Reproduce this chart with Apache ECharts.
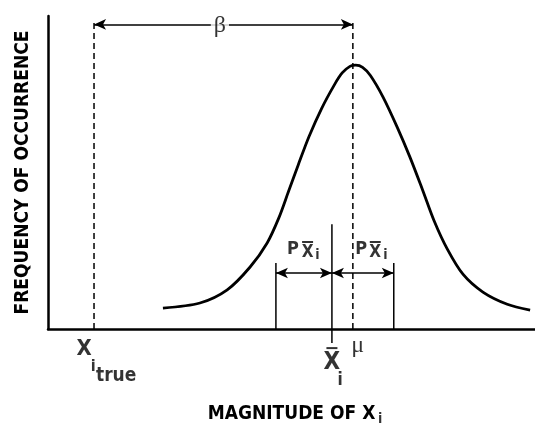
<!DOCTYPE html>
<html>
<head>
<meta charset="utf-8">
<script src="https://cdn.jsdelivr.net/npm/echarts@6/dist/echarts.min.js"></script>
<style>
html,body{margin:0;padding:0;background:#fff;}
#main{width:535px;height:429px;}
</style>
</head>
<body>
<div id="main"></div>
<script>
// frequency curve (x: magnitude 0-100, y: frequency 0-100)
var curveX = [23.6, 31.2, 36.8, 41.5, 45.0, 47.4, 49.4, 51.4, 53.6, 56.2, 58.8, 60.4, 62.0, 63.2, 64.6, 66.2, 68.8, 71.7, 74.3, 76.9, 79.3, 82.0, 85.2, 89.3, 94.3, 99.0];
var curveY = [6.7, 8.3, 12.5, 19.8, 27.5, 35.5, 44.0, 52.5, 61.5, 70.5, 78.0, 81.8, 83.9, 84.3, 83.6, 81.0, 74.1, 64.5, 55.0, 44.5, 34.5, 25.5, 17.5, 11.8, 7.9, 6.0];

// positions on the magnitude axis
var xTrue = 9.45, mu = 62.6, xBar = 58.3;
var pBounds = [46.8, 71.0];

// heights of the guides
var guideTop = 98.6, betaY = 97.3;
var barTop = 33.5, barFoot = -4.5;
var bracketTop = 21.1, bracketY = 17.9;

var narrow = '"Liberation Sans Narrow", "DejaVu Sans Condensed", "Roboto", sans-serif';
var serif = '"Liberation Serif", "DejaVu Serif", serif';

// text pieces [text, x, y, size, family, weight]
var notes = [
  ['β', 35.3, 96.8, 24, serif, 'normal'],
  ['μ', 63.6, -5.2, 24, serif, 'normal'],
  ['X', 7.4, -6.4, 22, narrow, 'bold'],
  ['i', 9.3, -12.1, 16, narrow, 'bold'],
  ['true', 14.0, -15.0, 19, narrow, 'bold'],
  ['X', 58.3, -10.7, 24, narrow, 'bold'],
  ['i', 60.0, -16.6, 17, narrow, 'bold'],
  ['P', 50.3, 25.6, 18, narrow, 'bold'],
  ['X', 53.3, 24.4, 17, narrow, 'bold'],
  ['i', 55.3, 23.4, 14, narrow, 'bold'],
  ['P', 64.3, 25.6, 18, narrow, 'bold'],
  ['X', 67.2, 24.4, 17, narrow, 'bold'],
  ['i', 69.3, 23.4, 14, narrow, 'bold'],
  ['i', 68.2, -29.0, 14, narrow, 'bold']
];
// overbars over the X's
var barsX = [58.3, 53.3, 67.2];
var barsY = [-6.1, 27.8, 27.8];

var curve = curveX.map(function (x, i) { return [x, curveY[i]]; });

function vline(x, y0, y1, dashed) {
  return {
    type: 'line', data: [[x, y0], [x, y1]], symbol: 'none', clip: false, silent: true,
    lineStyle: { color: '#000', width: 1.5, type: dashed ? [6, 4] : 'solid' }, z: 3
  };
}

var chart = echarts.init(document.getElementById('main'));
var option = {
  animation: false,
  backgroundColor: '#fff',
  grid: { left: 48, right: 0, top: 16, bottom: 100, outerBoundsMode: 'none', containLabel: false },
  xAxis: {
    type: 'value', min: 0, max: 100,
    axisLine: { lineStyle: { color: '#000', width: 2.5 } },
    axisTick: { show: false }, axisLabel: { show: false }, splitLine: { show: false },
    name: 'MAGNITUDE OF X', nameLocation: 'middle', nameGap: 76,
    nameTextStyle: { color: '#000', fontSize: 19, fontWeight: 'bold', fontFamily: narrow }
  },
  yAxis: {
    type: 'value', min: 0, max: 100,
    axisLine: { lineStyle: { color: '#000', width: 2.5 } },
    axisTick: { show: false }, axisLabel: { show: false }, splitLine: { show: false },
    name: 'FREQUENCY OF OCCURRENCE', nameLocation: 'middle', nameRotate: 90, nameGap: 15,
    nameTextStyle: { color: '#000', fontSize: 19, fontWeight: 'bold', fontFamily: narrow }
  },
  series: [
    {
      type: 'line', data: curve, smooth: 0.3, symbol: 'none', silent: true,
      lineStyle: { color: '#000', width: 2.8 }, z: 4,
      markLine: {
        silent: true, symbol: ['arrow', 'arrow'], symbolSize: [8, 12],
        label: { show: false },
        lineStyle: { color: '#000', width: 1.5, type: 'solid' },
        data: [
          [{ coord: [xTrue, betaY] }, { coord: [mu, betaY] }],
          [{ coord: [pBounds[0], bracketY] }, { coord: [xBar, bracketY] }],
          [{ coord: [xBar, bracketY] }, { coord: [pBounds[1], bracketY] }]
        ]
      }
    },
    vline(xTrue, 0, guideTop, true),
    vline(mu, 0, guideTop, true),
    vline(xBar, barFoot, barTop, false),
    vline(pBounds[0], 0, bracketTop, false),
    vline(pBounds[1], 0, bracketTop, false),
    {
      type: 'scatter', clip: false, silent: true, symbol: 'rect', symbolSize: [11, 2],
      itemStyle: { color: '#000' }, z: 6,
      data: barsX.map(function (x, i) { return [x, barsY[i]]; })
    },
    {
      type: 'scatter', clip: false, silent: true, symbolSize: 1,
      itemStyle: { color: 'rgba(0,0,0,0)' }, z: 7,
      label: { show: true, position: 'inside', color: '#000' },
      data: notes.map(function (n) {
        return {
          value: [n[1], n[2]],
          label: {
            formatter: n[0], fontSize: n[3], fontFamily: n[4], fontWeight: n[5], color: '#000',
            textBorderWidth: 0,
            backgroundColor: n[0] === 'β' ? '#fff' : 'transparent', padding: n[0] === 'β' ? [0, 3] : 0
          }
        };
      })
    }
  ]
};
option && chart.setOption(option);
</script>
</body>
</html>
